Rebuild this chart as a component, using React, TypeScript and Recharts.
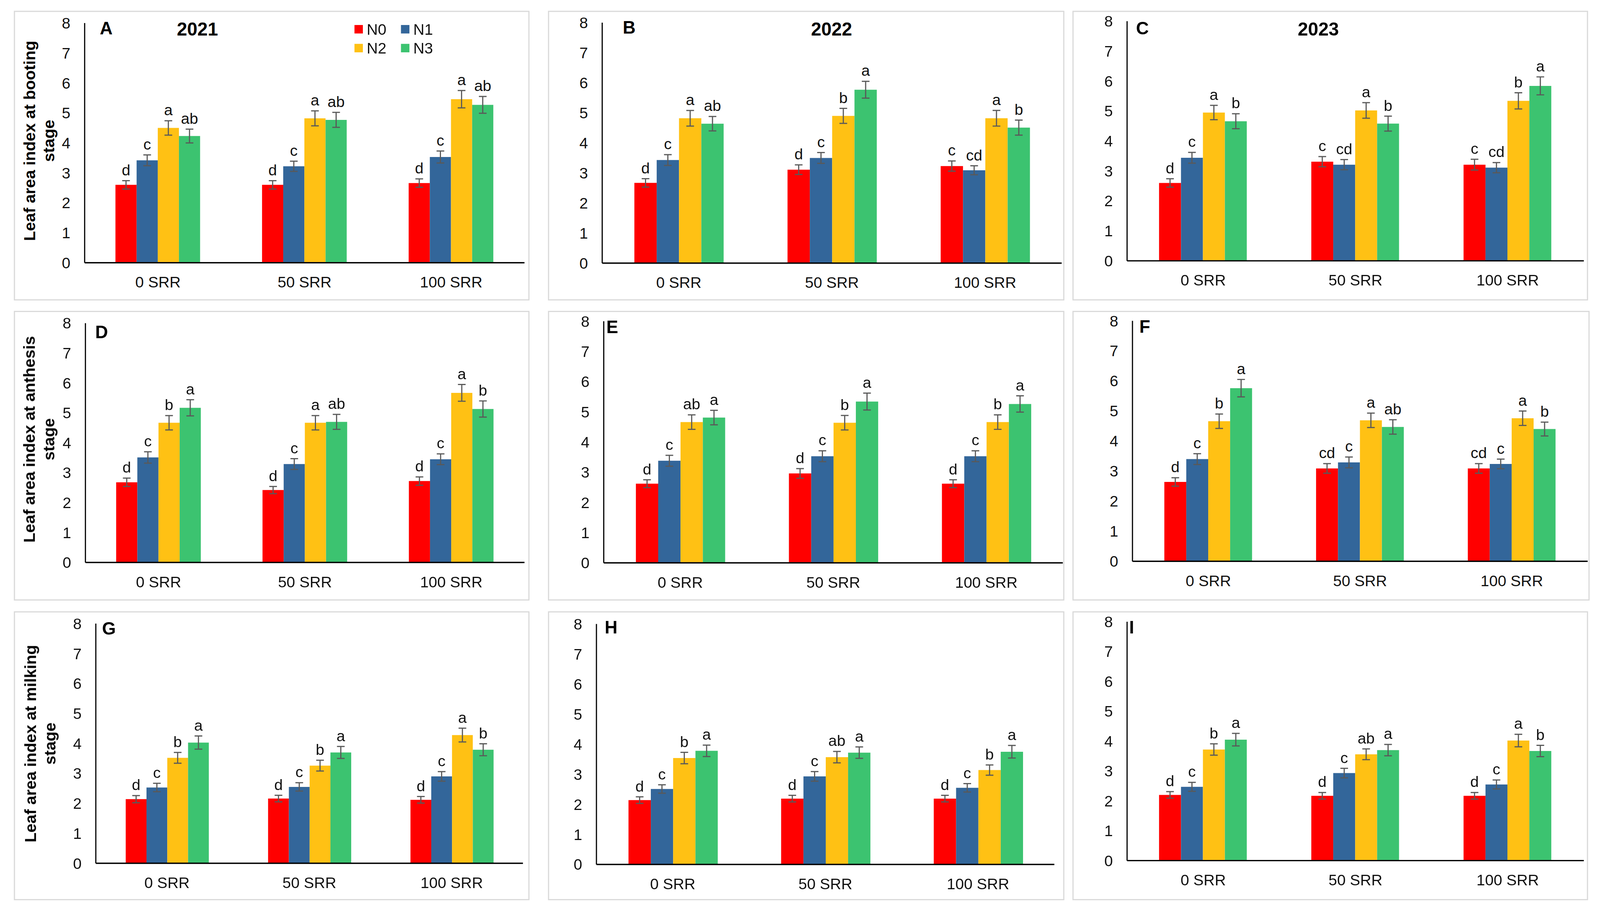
import React from 'react';
import { BarChart, Bar, XAxis, YAxis, ErrorBar, LabelList } from 'recharts';

const categories = ['0 SRR', '50 SRR', '100 SRR'];
const series = ['N0', 'N1', 'N2', 'N3'];
const yTicks = [0, 1, 2, 3, 4, 5, 6, 7, 8];

// rows = N0..N3, columns = 0 / 50 / 100 SRR
// A - booting 2021
const meansA = [[2.60, 2.60, 2.66], [3.42, 3.22, 3.53], [4.50, 4.82, 5.46], [4.23, 4.77, 5.27]];
const errsA = [[0.14, 0.14, 0.14], [0.18, 0.17, 0.20], [0.24, 0.25, 0.29], [0.23, 0.25, 0.28]];
const lettersA = [['d', 'd', 'd'], ['c', 'c', 'c'], ['a', 'a', 'a'], ['ab', 'ab', 'ab']];

// B - booting 2022
const meansB = [[2.67, 3.11, 3.23], [3.43, 3.50, 3.09], [4.82, 4.90, 4.82], [4.64, 5.77, 4.51]];
const errsB = [[0.14, 0.16, 0.17], [0.18, 0.18, 0.15], [0.26, 0.25, 0.26], [0.24, 0.28, 0.25]];
const lettersB = [['d', 'd', 'c'], ['c', 'c', 'cd'], ['a', 'b', 'a'], ['ab', 'a', 'b']];

// C - booting 2023
const meansC = [[2.60, 3.31, 3.21], [3.44, 3.21, 3.11], [4.95, 5.02, 5.34], [4.66, 4.58, 5.84]];
const errsC = [[0.14, 0.17, 0.18], [0.18, 0.17, 0.17], [0.24, 0.26, 0.27], [0.25, 0.25, 0.30]];
const lettersC = [['d', 'c', 'c'], ['c', 'cd', 'cd'], ['a', 'a', 'b'], ['b', 'b', 'a']];

// D - anthesis 2021
const meansD = [[2.68, 2.42, 2.72], [3.51, 3.29, 3.45], [4.67, 4.67, 5.67], [5.17, 4.70, 5.13]];
const errsD = [[0.14, 0.12, 0.14], [0.19, 0.18, 0.18], [0.24, 0.24, 0.28], [0.27, 0.25, 0.27]];
const lettersD = [['d', 'd', 'd'], ['c', 'c', 'c'], ['b', 'a', 'a'], ['a', 'ab', 'b']];

// E - anthesis 2022
const meansE = [[2.62, 2.96, 2.62], [3.38, 3.53, 3.53], [4.66, 4.64, 4.66], [4.81, 5.34, 5.26]];
const errsE = [[0.13, 0.16, 0.13], [0.18, 0.18, 0.18], [0.24, 0.24, 0.24], [0.24, 0.28, 0.27]];
const lettersE = [['d', 'd', 'd'], ['c', 'c', 'c'], ['ab', 'b', 'b'], ['a', 'a', 'a']];

// F - anthesis 2023
const meansF = [[2.64, 3.09, 3.09], [3.40, 3.29, 3.24], [4.66, 4.69, 4.76], [5.76, 4.47, 4.40]];
const errsF = [[0.14, 0.16, 0.16], [0.18, 0.18, 0.16], [0.24, 0.24, 0.24], [0.29, 0.24, 0.23]];
const lettersF = [['d', 'cd', 'cd'], ['c', 'c', 'c'], ['b', 'a', 'a'], ['a', 'ab', 'b']];

// G - milking 2021
const meansG = [[2.14, 2.16, 2.12], [2.53, 2.55, 2.90], [3.52, 3.26, 4.28], [4.03, 3.70, 3.79]];
const errsG = [[0.12, 0.11, 0.11], [0.14, 0.14, 0.16], [0.18, 0.18, 0.23], [0.22, 0.20, 0.20]];
const lettersG = [['d', 'd', 'd'], ['c', 'c', 'c'], ['b', 'b', 'a'], ['a', 'a', 'b']];

// H - milking 2022
const meansH = [[2.14, 2.19, 2.19], [2.51, 2.93, 2.55], [3.54, 3.57, 3.14], [3.78, 3.72, 3.75]];
const errsH = [[0.11, 0.11, 0.11], [0.14, 0.16, 0.14], [0.19, 0.19, 0.17], [0.19, 0.19, 0.21]];
const lettersH = [['d', 'd', 'd'], ['c', 'c', 'c'], ['b', 'ab', 'b'], ['a', 'a', 'a']];

// I - milking 2023
const meansI = [[2.20, 2.17, 2.17], [2.47, 2.93, 2.55], [3.72, 3.56, 4.02], [4.05, 3.70, 3.67]];
const errsI = [[0.11, 0.11, 0.11], [0.15, 0.16, 0.15], [0.19, 0.18, 0.21], [0.21, 0.19, 0.19]];
const lettersI = [['d', 'd', 'd'], ['c', 'c', 'c'], ['b', 'ab', 'a'], ['a', 'a', 'b']];

const colors = ['#FF0000', '#33669A', '#FFC114', '#3CC370'];
const FONT = '"Liberation Sans", Arial, sans-serif';
const Y_AXIS_W = 100;
const X_AXIS_H = 60;
const PAGE_W = 4158;
const PAGE_H = 2366;

type Panel = {
  id: string;
  year?: string;
  yearX?: number;
  title?: string[];
  titleC?: [number, number];
  letterPos: [number, number];
  frame: [number, number, number, number];
  plot: [number, number, number, number];
  means: number[][];
  errs: number[][];
  letters: string[][];
};

const panels: Panel[] = [
  { id: 'A', year: '2021', yearX: 513, title: ['Leaf area index at booting', 'stage'], titleC: [102, 366], letterPos: [276, 73],
    frame: [36, 28, 1376, 781], plot: [220, 60, 1363, 683], means: meansA, errs: errsA, letters: lettersA },
  { id: 'B', year: '2022', yearX: 2161, letterPos: [1635, 71],
    frame: [1424, 28, 2766, 781], plot: [1565, 59, 2759, 684], means: meansB, errs: errsB, letters: lettersB },
  { id: 'C', year: '2023', yearX: 3426, letterPos: [2969, 73],
    frame: [2787, 28, 4127, 781], plot: [2929, 55, 4116, 678], means: meansC, errs: errsC, letters: lettersC },
  { id: 'D', title: ['Leaf area index at anthesis', 'stage'], titleC: [102, 1142], letterPos: [264, 863],
    frame: [36, 808, 1376, 1561], plot: [222, 840, 1363, 1462], means: meansD, errs: errsD, letters: lettersD },
  { id: 'E', letterPos: [1591, 850],
    frame: [1424, 808, 2766, 1561], plot: [1569, 835, 2762, 1463], means: meansE, errs: errsE, letters: lettersE },
  { id: 'F', letterPos: [2975, 849],
    frame: [2787, 808, 4131, 1561], plot: [2943, 834, 4126, 1459], means: meansF, errs: errsF, letters: lettersF },
  { id: 'G', title: ['Leaf area index at milking', 'stage'], titleC: [105, 1933], letterPos: [283, 1634],
    frame: [36, 1589, 1376, 2340], plot: [249, 1621, 1359, 2244], means: meansG, errs: errsG, letters: lettersG },
  { id: 'H', letterPos: [1588, 1631],
    frame: [1424, 1589, 2766, 2340], plot: [1550, 1622, 2740, 2247], means: meansH, errs: errsH, letters: lettersH },
  { id: 'I', letterPos: [2941, 1631],
    frame: [2787, 1589, 4127, 2340], plot: [2929, 1616, 4116, 2237], means: meansI, errs: errsI, letters: lettersI },
];

const letterLabel = (errs: number[], pxPerUnit: number) => (props: any) => {
  const vb = props.viewBox || {};
  const x = Number(props.x ?? vb.x);
  const y = Number(props.y ?? vb.y);
  const w = Number(props.width ?? vb.width);
  const i = props.index ?? 0;
  return (
    <text x={x + w / 2} y={y - errs[i] * pxPerUnit - 14} textAnchor="middle" fontSize={40} fontFamily={FONT} fill="#111">
      {props.value}
    </text>
  );
};

const PanelChart: React.FC<{ p: Panel }> = ({ p }) => {
  const [fl, ft, fr, fb] = p.frame;
  const [pl, pt, pr, pb] = p.plot;
  const w = fr - fl;
  const h = fb - ft;
  const pxPerUnit = (pb - pt) / 8;
  const data = categories.map((c, ci) => {
    const row: any = { name: c };
    series.forEach((s, si) => {
      row[s] = p.means[si][ci];
      row[s + 'e'] = p.errs[si][ci];
      row[s + 'l'] = p.letters[si][ci];
    });
    return row;
  });
  const center = { position: 'absolute' as const, transform: 'translate(-50%, -50%)', whiteSpace: 'nowrap' as const, fontFamily: FONT, fontWeight: 700, color: '#000' };
  return (
    <>
      <div style={{ position: 'absolute', left: fl, top: ft, width: w, height: h, boxSizing: 'border-box', border: '3px solid #d9d9d9', background: '#fff' }} />
      <div style={{ position: 'absolute', left: fl, top: ft }}>
        <BarChart
          width={w}
          height={h}
          data={data}
          margin={{ top: pt - ft, right: fr - pr, bottom: fb - pb - X_AXIS_H, left: pl - fl - Y_AXIS_W }}
          barCategoryGap="21%"
          barGap={0}
        >
          <XAxis dataKey="name" height={X_AXIS_H} tickLine={false} tickMargin={30} axisLine={{ stroke: '#000', strokeWidth: 3.5 }}
            tick={{ fontSize: 40, fill: '#111', fontFamily: FONT }} interval={0} />
          <YAxis width={Y_AXIS_W} domain={[0, 8]} ticks={yTicks} tickLine={false} tickMargin={31} axisLine={{ stroke: '#000', strokeWidth: 3 }}
            tick={{ fontSize: 40, fill: '#111', fontFamily: FONT }} interval={0} />
          {series.map((s, si) => (
            <Bar key={s} dataKey={s} fill={colors[si]} isAnimationActive={false}>
              <ErrorBar dataKey={s + 'e'} width={10} strokeWidth={3} stroke="#595959" />
              <LabelList dataKey={s + 'l'} content={letterLabel(p.errs[si], pxPerUnit)} />
            </Bar>
          ))}
        </BarChart>
      </div>
      <div style={{ ...center, left: p.letterPos[0], top: p.letterPos[1], fontSize: 46 }}>{p.id}</div>
      {p.year && <div style={{ ...center, left: p.yearX, top: 76, fontSize: 48 }}>{p.year}</div>}
      {p.title && p.titleC && (
        <div style={{ ...center, left: p.titleC[0], top: p.titleC[1], transform: 'translate(-50%, -50%) rotate(-90deg)', fontSize: 42, lineHeight: '50px', textAlign: 'center' }}>
          {p.title[0]}<br />{p.title[1]}
        </div>
      )}
    </>
  );
};

const LegendBox: React.FC = () => {
  const pos = [[921, 65], [1042, 65], [921, 114], [1042, 114]];
  return (
    <>
      {series.map((s, i) => (
        <div key={s} style={{ position: 'absolute', left: pos[i][0], top: pos[i][1], display: 'flex', alignItems: 'center', fontFamily: FONT, fontSize: 40, color: '#111', lineHeight: '22px' }}>
          <span style={{ display: 'inline-block', width: 22, height: 22, background: colors[i], marginRight: 10 }} />
          {s}
        </div>
      ))}
    </>
  );
};

const App: React.FC = () => {
  // fit the figure to whatever viewport the page actually gets
  const vw = typeof window !== 'undefined' ? window.innerWidth : PAGE_W;
  const vh = typeof window !== 'undefined' ? window.innerHeight : PAGE_H;
  const k = Math.min(1, vw / PAGE_W, vh / PAGE_H);
  return (
    <div style={{ position: 'fixed', left: 0, top: 0, width: vw, height: vh, background: '#fff', overflow: 'hidden' }}>
      <div style={{ position: 'absolute', left: 0, top: 0, width: PAGE_W, height: PAGE_H, transform: `scale(${k})`, transformOrigin: '0 0' }}>
        {panels.map((p) => (
          <PanelChart key={p.id} p={p} />
        ))}
        <LegendBox />
      </div>
    </div>
  );
};

export default App;
